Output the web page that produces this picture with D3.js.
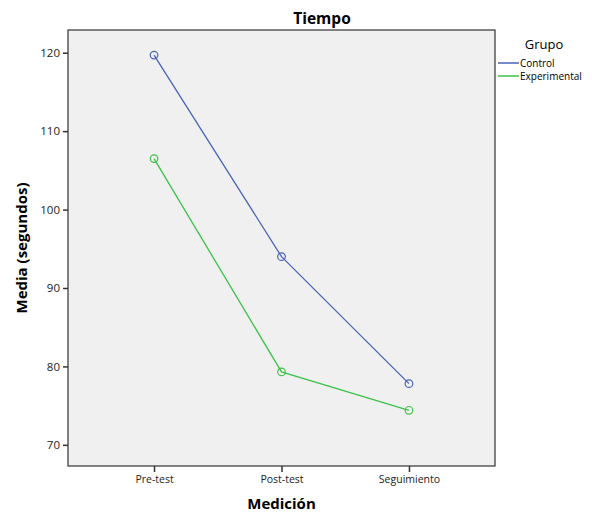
<!DOCTYPE html>
<html>
<head>
<meta charset="utf-8">
<script src="https://cdn.jsdelivr.net/npm/d3@7"></script>
<style>
  body { margin: 0; background: #fff; }
  text { font-family: "Open Sans", "DejaVu Sans", sans-serif; }
</style>
</head>
<body>
<div id="chart"></div>
<script>
// Chart data
const categories = ["Pre-test", "Post-test", "Seguimiento"];
const groups = ["Control", "Experimental"];
const controlValues = [119.7, 94.0, 77.8];
const experimentalValues = [106.5, 79.3, 74.4];
const yTicks = [70, 80, 90, 100, 110, 120];

const width = 592;
const height = 513;
const margin = { top: 30, right: 97, bottom: 47, left: 68 };

const colors = { Control: "#4a63b8", Experimental: "#3cc24a" };
const series = [
    { name: "Control", values: controlValues },
    { name: "Experimental", values: experimentalValues }
];

const svg = d3.select("#chart").append("svg")
    .attr("width", width)
    .attr("height", height);

const x = d3.scalePoint()
    .domain(categories)
    .range([margin.left, width - margin.right])
    .padding(0.675);

const y = d3.scaleLinear()
    .domain([67.3, 122.9])
    .range([height - margin.bottom, margin.top]);

// Plot background + frame
svg.append("rect")
    .attr("x", margin.left)
    .attr("y", margin.top)
    .attr("width", width - margin.left - margin.right)
    .attr("height", height - margin.top - margin.bottom)
    .attr("fill", "#f0f0f0")
    .attr("stroke", "#333")
    .attr("stroke-width", 1.2);

// Axes
const yAxis = svg.append("g")
    .attr("transform", `translate(${margin.left},0)`)
    .call(d3.axisLeft(y).tickValues(yTicks).tickSize(5).tickPadding(3));
yAxis.select(".domain").remove();
yAxis.selectAll("line").attr("stroke", "#333").attr("stroke-width", 1.5);
yAxis.selectAll("text").attr("font-size", 11.5).attr("fill", "#222");

const xAxis = svg.append("g")
    .attr("transform", `translate(0,${height - margin.bottom})`)
    .call(d3.axisBottom(x).tickSize(6).tickPadding(4));
xAxis.select(".domain").remove();
xAxis.selectAll("line").attr("stroke", "#333").attr("stroke-width", 1.5);
xAxis.selectAll("text").attr("font-size", 10.5).attr("fill", "#222");

// Lines and markers
const line = d3.line()
    .x((d, i) => x(categories[i]))
    .y(d => y(d));

series.forEach(s => {
    svg.append("path")
        .datum(s.values)
        .attr("fill", "none")
        .attr("stroke", colors[s.name])
        .attr("stroke-width", 1.3)
        .attr("d", line);

    svg.append("g").selectAll("circle")
        .data(s.values)
        .enter().append("circle")
        .attr("cx", (d, i) => x(categories[i]))
        .attr("cy", d => y(d))
        .attr("r", 3.8)
        .attr("fill", "none")
        .attr("stroke", colors[s.name])
        .attr("stroke-width", 1.2);
});

// Titles
svg.append("text")
    .attr("x", 322)
    .attr("y", 24)
    .attr("text-anchor", "middle")
    .attr("font-size", 15.5)
    .attr("font-weight", "bold")
    .text("Tiempo");

svg.append("text")
    .attr("x", (margin.left + width - margin.right) / 2)
    .attr("y", 509)
    .attr("text-anchor", "middle")
    .attr("font-size", 15)
    .attr("font-weight", "bold")
    .text("Medición");

svg.append("text")
    .attr("transform", `translate(27,${(margin.top + height - margin.bottom) / 2}) rotate(-90)`)
    .attr("text-anchor", "middle")
    .attr("font-size", 15)
    .attr("font-weight", "bold")
    .text("Media (segundos)");

// Legend
const legend = svg.append("g");
legend.append("text")
    .attr("x", 544)
    .attr("y", 49)
    .attr("text-anchor", "middle")
    .attr("font-size", 13)
    .text("Grupo");

groups.forEach((g, i) => {
    const ly = 63 + i * 13;
    legend.append("line")
        .attr("x1", 498).attr("x2", 519)
        .attr("y1", ly).attr("y2", ly)
        .attr("stroke", colors[g])
        .attr("stroke-width", 1.5);
    legend.append("text")
        .attr("x", 520)
        .attr("y", ly + 4)
        .attr("font-size", 10)
        .text(g);
});
</script>
</body>
</html>
